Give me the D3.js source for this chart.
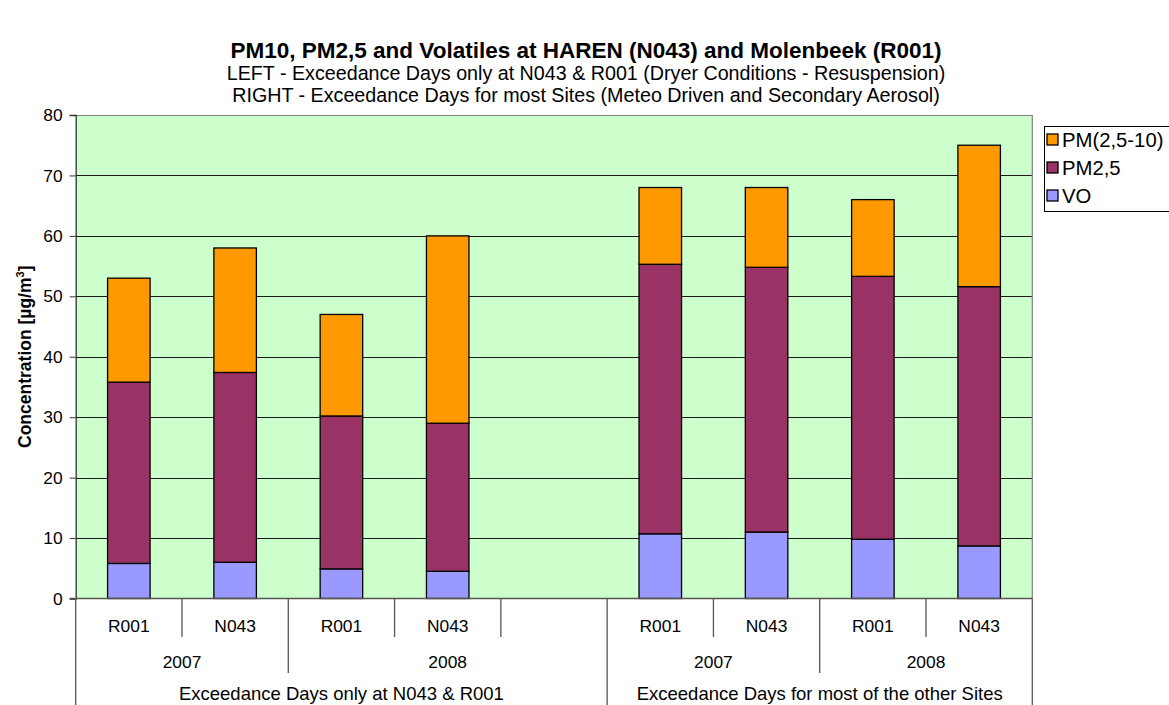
<!DOCTYPE html>
<html>
<head>
<meta charset="utf-8">
<script src="https://d3js.org/d3.v7.min.js"></script>
<style>
  body { margin: 0; background: #fff; }
  text { font-family: "Liberation Sans", Arial, sans-serif; }
</style>
</head>
<body>
<script>
// chart values
const sites = ["R001", "N043", "R001", "N043", "", "R001", "N043", "R001", "N043"];
const years = ["2007", "2007", "2008", "2008", "2008", "2007", "2007", "2008", "2008"];
const periods = [
  "Exceedance Days only at N043 & R001", "Exceedance Days only at N043 & R001",
  "Exceedance Days only at N043 & R001", "Exceedance Days only at N043 & R001",
  "Exceedance Days only at N043 & R001",
  "Exceedance Days for most of the other Sites", "Exceedance Days for most of the other Sites",
  "Exceedance Days for most of the other Sites", "Exceedance Days for most of the other Sites"
];
const vo = [5.8, 6.0, 4.9, 4.5, 0, 10.7, 11.0, 9.8, 8.7];
const pm25 = [30.0, 31.4, 25.3, 24.5, 0, 44.6, 43.8, 43.5, 42.9];
const pmCoarse = [17.2, 20.6, 16.8, 31.0, 0, 12.7, 13.2, 12.7, 23.4];
const seriesNames = ["VO", "PM2,5", "PM(2,5-10)"];
const seriesColors = ["#9999FF", "#993366", "#FF9900"];
const yTicks = [0, 10, 20, 30, 40, 50, 60, 70, 80];

const W = 1169, H = 705;
const pLeft = 75.7, pRight = 1032.3, pTop = 115, pBottom = 598.5;

const svg = d3.select("body").append("svg")
  .attr("width", W).attr("height", H);

const rows = sites.map((s, i) => ({ i: i, VO: vo[i], "PM2,5": pm25[i], "PM(2,5-10)": pmCoarse[i] }));

const x = d3.scaleBand()
  .domain(d3.range(sites.length))
  .range([pLeft, pRight])
  .paddingInner(0.6)
  .paddingOuter(0.3);
const step = x.step();
const slotLeft = i => pLeft + i * step;

const y = d3.scaleLinear().domain([0, 80]).range([pBottom, pTop]);

// plot area
svg.append("rect")
  .attr("x", pLeft).attr("y", pTop)
  .attr("width", pRight - pLeft).attr("height", pBottom - pTop)
  .attr("fill", "#CCFFCC");

// gridlines
svg.selectAll(".grid")
  .data(yTicks.filter(d => d > 0 && d < 80))
  .join("line")
  .attr("x1", pLeft).attr("x2", pRight)
  .attr("y1", d => Math.round(y(d)) + 0.5).attr("y2", d => Math.round(y(d)) + 0.5)
  .attr("stroke", "#1a1a1a").attr("stroke-width", 1);

// border top/right
svg.append("path")
  .attr("d", `M${pLeft},${Math.round(pTop) + 0.5}H${pRight}V${pBottom}`)
  .attr("fill", "none").attr("stroke", "#808080").attr("stroke-width", 1.2);

// stacked bars
const stack = d3.stack().keys(seriesNames);
const layers = stack(rows);
svg.append("g").selectAll("g")
  .data(layers)
  .join("g")
  .attr("fill", (d, k) => seriesColors[k])
  .selectAll("rect")
  .data(d => d.filter(p => p[1] > p[0]))
  .join("rect")
  .attr("x", p => x(p.data.i))
  .attr("width", x.bandwidth())
  .attr("y", p => y(p[1]))
  .attr("height", p => y(p[0]) - y(p[1]))
  .attr("stroke", "#000").attr("stroke-width", 1.3);

// y axis
const yAxis = d3.axisLeft(y).tickValues(yTicks).tickSize(6).tickPadding(7);
const yg = svg.append("g").attr("transform", `translate(${pLeft},0)`).call(yAxis);
yg.select(".domain").attr("stroke", "#333").attr("stroke-width", 1.3);
yg.selectAll(".tick line").attr("stroke", "#333");
yg.selectAll(".tick text").attr("font-size", 17.4).attr("fill", "#000")
  .attr("font-family", "Liberation Sans, Arial, sans-serif");

// x baseline
svg.append("line")
  .attr("x1", pLeft - 6).attr("x2", pRight)
  .attr("y1", pBottom).attr("y2", pBottom)
  .attr("stroke", "#555").attr("stroke-width", 1.3);

// multi-level category axis
function runs(arr) {
  const out = [];
  arr.forEach((v, i) => {
    const last = out[out.length - 1];
    if (last && last.label === v && last.parentKey === periods[i]) last.to = i;
    else out.push({ label: v, from: i, to: i, parentKey: periods[i] });
  });
  return out;
}
const yearRuns = runs(years);
const periodRuns = runs(periods);

const axisG = svg.append("g");
const lvl1Bottom = 637, lvl2Bottom = 673, lvl3Bottom = H;

// level 1: site labels and separators
axisG.selectAll(".site")
  .data(sites)
  .join("text")
  .attr("x", (d, i) => x(i) + x.bandwidth() / 2)
  .attr("y", 632)
  .attr("text-anchor", "middle")
  .attr("font-size", 17.4)
  .text(d => d);

const boundaries = d3.range(sites.length + 1).map(i => {
  let level = 1;
  if (yearRuns.some(r => r.from === i || r.to + 1 === i)) level = 2;
  if (periodRuns.some(r => r.from === i || r.to + 1 === i)) level = 3;
  return { i: i, level: level };
});
axisG.selectAll(".sep")
  .data(boundaries)
  .join("line")
  .attr("x1", d => slotLeft(d.i)).attr("x2", d => slotLeft(d.i))
  .attr("y1", pBottom)
  .attr("y2", d => d.level === 1 ? lvl1Bottom : d.level === 2 ? lvl2Bottom : lvl3Bottom)
  .attr("stroke", "#555").attr("stroke-width", 1.3);

// level 2: years
axisG.selectAll(".year")
  .data(yearRuns)
  .join("text")
  .attr("x", d => (slotLeft(d.from) + slotLeft(d.to + 1)) / 2)
  .attr("y", 668)
  .attr("text-anchor", "middle")
  .attr("font-size", 17.4)
  .text(d => d.label);

// level 3: periods
axisG.selectAll(".period")
  .data(periodRuns)
  .join("text")
  .attr("x", d => (slotLeft(d.from) + slotLeft(d.to + 1)) / 2)
  .attr("y", 700)
  .attr("text-anchor", "middle")
  .attr("font-size", 18.5)
  .text(d => d.label);

// y axis title
svg.append("text")
  .attr("transform", `translate(31,${(pTop + pBottom) / 2}) rotate(-90)`)
  .attr("text-anchor", "middle")
  .attr("font-size", 17.5)
  .attr("font-weight", "bold")
  .html('Concentration [µg/m<tspan dy="-7" font-size="11">3</tspan><tspan dy="7">]</tspan>');

// titles
svg.append("text")
  .attr("x", 586).attr("y", 58)
  .attr("text-anchor", "middle")
  .attr("font-size", 22.5).attr("font-weight", "bold")
  .text("PM10, PM2,5 and Volatiles at HAREN (N043) and Molenbeek (R001)");
svg.append("text")
  .attr("x", 586).attr("y", 80)
  .attr("text-anchor", "middle")
  .attr("font-size", 19.7)
  .text("LEFT - Exceedance Days only at N043 & R001 (Dryer Conditions - Resuspension)");
svg.append("text")
  .attr("x", 586).attr("y", 102)
  .attr("text-anchor", "middle")
  .attr("font-size", 19.7)
  .text("RIGHT - Exceedance Days for most Sites (Meteo Driven and Secondary Aerosol)");

// legend
const legendOrder = [2, 1, 0];
const lg = svg.append("g");
lg.append("rect")
  .attr("x", 1044.5).attr("y", 126.5)
  .attr("width", 140).attr("height", 85)
  .attr("fill", "#fff").attr("stroke", "#000").attr("stroke-width", 1);
const items = lg.selectAll(".item")
  .data(legendOrder)
  .join("g")
  .attr("transform", (d, k) => `translate(1047,${140 + k * 28})`);
items.append("rect")
  .attr("x", 0).attr("y", -6)
  .attr("width", 11).attr("height", 11)
  .attr("fill", d => seriesColors[d])
  .attr("stroke", "#000").attr("stroke-width", 1.3);
items.append("text")
  .attr("x", 15).attr("y", 6.5)
  .attr("font-size", 20.3)
  .text(d => seriesNames[d]);
</script>
</body>
</html>
